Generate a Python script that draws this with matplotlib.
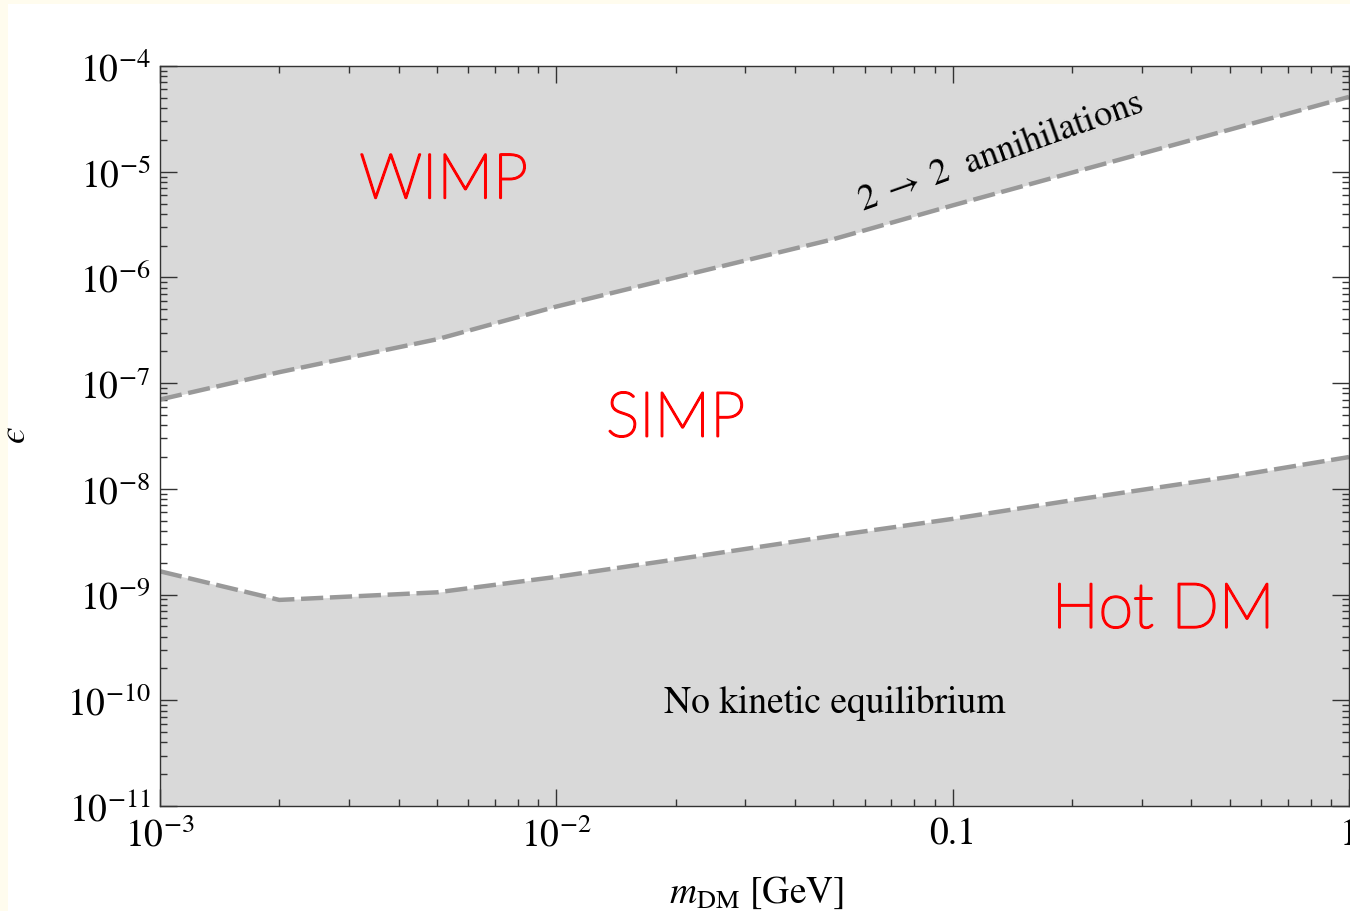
import matplotlib
matplotlib.use("Agg")
import matplotlib.pyplot as plt
import matplotlib.patches as patches
import matplotlib.patheffects as pe
from matplotlib.ticker import LogLocator, FixedLocator, FixedFormatter, NullFormatter

# --- data ---
mass = [1e-3, 2e-3, 5e-3, 1e-2, 2e-2, 5e-2, 0.1, 0.2, 0.5, 1.0]
upper_eps = [7.0e-8, 1.27e-7, 2.6e-7, 5.3e-7, 1.0e-6, 2.3e-6, 4.8e-6, 9.8e-6, 2.5e-5, 5.1e-5]
lower_eps = [1.66e-9, 8.9e-10, 1.05e-9, 1.47e-9, 2.15e-9, 3.6e-9, 5.2e-9, 7.8e-9, 1.3e-8, 2.0e-8]

x_ticks = [1e-3, 1e-2, 0.1, 1.0]
x_ticklabels = [r"$10^{-3}$", r"$10^{-2}$", "0.1", "1"]
y_ticks = [1e-11, 1e-10, 1e-9, 1e-8, 1e-7, 1e-6, 1e-5, 1e-4]
y_ticklabels = [r"$10^{-11}$", r"$10^{-10}$", r"$10^{-9}$", r"$10^{-8}$",
                r"$10^{-7}$", r"$10^{-6}$", r"$10^{-5}$", r"$10^{-4}$"]

plt.rcParams["font.family"] = ["STIXGeneral", "DejaVu Serif"]
plt.rcParams["mathtext.fontset"] = "stix"

W, H = 1350, 912
fig = plt.figure(figsize=(W / 100, H / 100), dpi=100)
fig.patch.set_facecolor("#fffcee")
fig.patches.append(patches.Rectangle((8 / W, 0), 1 - 8 / W, 1 - 5 / H,
                                     transform=fig.transFigure, facecolor="white",
                                     edgecolor="none", zorder=-1))

ax = fig.add_axes([160 / W, 1 - 807 / H, 1189 / W, 740 / H])
ax.set_xscale("log")
ax.set_yscale("log")
ax.set_xlim(1e-3, 1)
ax.set_ylim(1e-11, 1e-4)
ax.set_facecolor("white")

grey = "#d9d9d9"
ax.fill_between(mass, upper_eps, 1e-4, color=grey, lw=0, zorder=1)
ax.fill_between(mass, 1e-11, lower_eps, color=grey, lw=0, zorder=1)
for curve in (upper_eps, lower_eps):
    ax.plot(mass, curve, color="#999999", lw=3.2, ls=(0, (5.0, 1.5)),
            dash_capstyle="butt", zorder=2)

# ticks
ax.xaxis.set_major_locator(FixedLocator(x_ticks))
ax.xaxis.set_major_formatter(FixedFormatter(x_ticklabels))
ax.yaxis.set_major_locator(FixedLocator(y_ticks))
ax.yaxis.set_major_formatter(FixedFormatter(y_ticklabels))
ax.xaxis.set_minor_locator(LogLocator(base=10, subs=range(2, 10), numticks=20))
ax.yaxis.set_minor_locator(LogLocator(base=10, subs=range(2, 10), numticks=20))
ax.xaxis.set_minor_formatter(NullFormatter())
ax.yaxis.set_minor_formatter(NullFormatter())
ax.tick_params(which="both", direction="in", top=True, right=True, color="#333333", width=1.0)
ax.tick_params(which="major", length=12, labelsize=27)
ax.tick_params(which="minor", length=5)
ax.tick_params(axis="y", which="major", pad=7)
ax.tick_params(axis="x", which="major", pad=8)
for sp in ax.spines.values():
    sp.set_color("#333333")
    sp.set_linewidth(1.0)
    sp.set_zorder(5)

ax.set_xlabel(r"$m_{\rm DM}$ [GeV]", fontsize=27)
ax.xaxis.set_label_coords(0.502, -0.092)
ax.set_ylabel("$\u03f5$", fontsize=27, rotation=90)
ax.yaxis.set_label_coords(-0.107, 0.503)

# region labels
red_font = dict(color="#ff0000", family=["Lato", "DejaVu Sans"], fontweight="light",
                fontsize=45, ha="center", va="center", zorder=4,
                path_effects=[pe.withStroke(linewidth=1.6, foreground="#ff0000")])
ax.text(5.2e-3, 8.2e-6, "WIMP", **red_font)
ax.text(0.02, 4.57e-8, "SIMP", **red_font)
ax.text(0.34, 7.1e-10, "Hot DM", **red_font)

ax.text(0.0505, 9.6e-11, "No kinetic equilibrium", fontsize=27,
        ha="center", va="center", zorder=4)
ax.text(0.132, 1.55e-5, r"$2\;\rightarrow\;2$  annihilations", fontsize=26,
        rotation=19.5, rotation_mode="anchor", ha="center", va="center", zorder=4)

fig.savefig("out.png", dpi=100, facecolor=fig.get_facecolor())
